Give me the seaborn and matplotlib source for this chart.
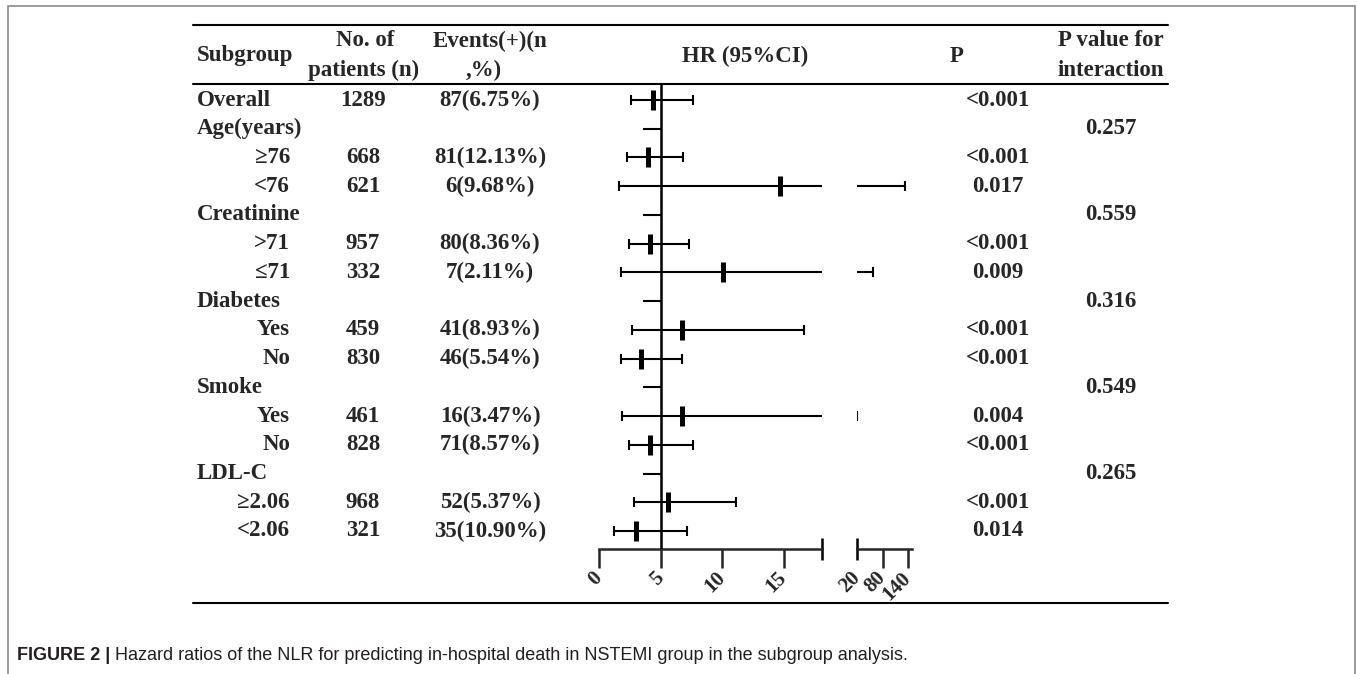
"""
Forest plot of NLR hazard ratios by subgroup (NSTEMI, in-hospital death)
"""

import numpy as np
import pandas as pd
import matplotlib
matplotlib.use("Agg")
import matplotlib.pyplot as plt
import matplotlib.transforms as mtransforms
from matplotlib.lines import Line2D
from matplotlib.patches import Rectangle
import seaborn as sns

# table rows
subgroups = ["Overall", "Age(years)", "≥76", "<76", "Creatinine", ">71", "≤71",
             "Diabetes", "Yes", "No", "Smoke", "Yes", "No", "LDL-C", "≥2.06", "<2.06"]
is_group = [True, True, False, False, True, False, False,
            True, False, False, True, False, False, True, False, False]
n_patients = ["1289", "", "668", "621", "", "957", "332",
              "", "459", "830", "", "461", "828", "", "968", "321"]
events = ["87(6.75%)", "", "81(12.13%)", "6(9.68%)", "", "80(8.36%)", "7(2.11%)",
          "", "41(8.93%)", "46(5.54%)", "", "16(3.47%)", "71(8.57%)", "", "52(5.37%)", "35(10.90%)"]
p_values = ["<0.001", "", "<0.001", "0.017", "", "<0.001", "0.009",
            "", "<0.001", "<0.001", "", "0.004", "<0.001", "", "<0.001", "0.014"]
p_interaction = ["", "0.257", "", "", "0.559", "", "",
                 "0.316", "", "", "0.549", "", "", "0.265", "", ""]

# hazard ratios and 95% CI
hr = [4.4, np.nan, 4.0, 14.7, np.nan, 4.15, 10.1,
      np.nan, 6.7, 3.4, np.nan, 6.7, 4.15, np.nan, 5.6, 3.0]
ci_low = [2.6, np.nan, 2.3, 1.6, np.nan, 2.4, 1.8,
          np.nan, 2.7, 1.8, np.nan, 1.9, 2.4, np.nan, 2.85, 1.2]
ci_high = [7.6, np.nan, 6.8, 133, np.nan, 7.3, 58,
           np.nan, 16.6, 6.7, np.nan, 21, 7.6, np.nan, 11.1, 7.15]

ticks_low = [0, 5, 10, 15]
ticks_high = [20, 80, 140]
break_low = 18.1
high_range = (20, 149.4)

W, H = 1357, 674


def fx(px):
    return px / W


def fy(py):
    return 1 - py / H


sns.set_style("white")
plt.rcParams['font.family'] = ['Liberation Serif', 'DejaVu Serif']
plt.rcParams['font.weight'] = 'bold'

fig = plt.figure(figsize=(W / 100, H / 100), dpi=100)

axis_y, top_y, row0_y = 549, 84, 100
row_step = (531 - 100) / 15
y_bottom = (axis_y - row0_y) / row_step
y_top = (top_y - row0_y) / row_step

ax1 = fig.add_axes([fx(599), fy(axis_y), fx(822) - fx(599), fy(top_y) - fy(axis_y)])
ax2 = fig.add_axes([fx(857), fy(axis_y), fx(912) - fx(857), fy(top_y) - fy(axis_y)])

df = pd.DataFrame({"row": np.arange(len(subgroups)), "hr": hr, "lo": ci_low, "hi": ci_high})
est = df.dropna()

lw = 1.5
sns.scatterplot(data=est, x="hr", y="row", marker="|", s=13.7 ** 2, linewidth=3.6,
                color="black", ax=ax1, legend=False, zorder=5)

for _, r in est.iterrows():
    hi1 = min(r.hi, break_low)
    ax1.hlines(r.row, r.lo, hi1, color="black", lw=lw)
    ax1.plot([r.lo], [r.row], marker="|", ms=6.5, mew=lw, color="black")
    if r.hi <= break_low:
        ax1.plot([r.hi], [r.row], marker="|", ms=6.5, mew=lw, color="black")
    else:
        ax2.hlines(r.row, high_range[0], r.hi, color="black", lw=lw)
        ax2.plot([r.hi], [r.row], marker="|", ms=6.5, mew=lw, color="black")

# short dash on group rows
grp_rows = df.row[df.hr.isna()]
ax1.hlines(grp_rows, 3.6, 5, color="black", lw=lw)
ax1.axvline(5, color="black", lw=1.8, zorder=3)

cap = 0.383
for ax, lims, ticks in [(ax1, (0, break_low), ticks_low), (ax2, high_range, ticks_high)]:
    ax.set_xlim(*lims)
    ax.set_ylim(y_bottom, y_top)
    for s in ["top", "right", "left"]:
        ax.spines[s].set_visible(False)
    ax.spines["bottom"].set_linewidth(1.8)
    ax.set_yticks([])
    ax.set_xlabel("")
    ax.set_ylabel("")
    ax.set_xticks(ticks)
    ax.set_xticklabels([str(t) for t in ticks], rotation=45, ha="right", va="center",
                       rotation_mode="anchor")
    ax.tick_params(axis="x", direction="out", length=13.7, width=1.8, labelsize=15, pad=5,
                   bottom=True)
    ax.patch.set_alpha(0)

ax1.plot([break_low, break_low], [y_bottom - cap, y_bottom + cap], color="black", lw=1.8,
         clip_on=False, solid_capstyle="butt")
ax2.plot([high_range[0], high_range[0]], [y_bottom - cap, y_bottom + cap], color="black",
         lw=1.8, clip_on=False, solid_capstyle="butt")
ax2.xaxis.get_major_ticks()[0].tick1line.set_markersize(0)

# table text
trans = mtransforms.blended_transform_factory(fig.transFigure, ax1.transData)
fs = 16.5
for i in range(len(subgroups)):
    if is_group[i]:
        ax1.text(fx(197), i, subgroups[i], ha="left", va="center", fontsize=fs,
                 transform=trans, clip_on=False)
    else:
        ax1.text(fx(290), i, subgroups[i], ha="right", va="center", fontsize=fs,
                 transform=trans, clip_on=False)
    ax1.text(fx(363), i, n_patients[i], ha="center", va="center", fontsize=fs,
             transform=trans, clip_on=False)
    ax1.text(fx(490), i, events[i], ha="center", va="center", fontsize=fs,
             transform=trans, clip_on=False)
    ax1.text(fx(998), i, p_values[i], ha="center", va="center", fontsize=fs,
             transform=trans, clip_on=False)
    ax1.text(fx(1111), i, p_interaction[i], ha="center", va="center", fontsize=fs,
             transform=trans, clip_on=False)

# header
fig.text(fx(197), fy(56), "Subgroup", ha="left", va="center", fontsize=fs)
fig.text(fx(365), fy(41), "No. of", ha="center", va="center", fontsize=fs)
fig.text(fx(364), fy(70), "patients (n)", ha="center", va="center", fontsize=fs)
fig.text(fx(490), fy(41), "Events(+)(n", ha="center", va="center", fontsize=fs)
fig.text(fx(484), fy(70), ",%)", ha="center", va="center", fontsize=fs)
fig.text(fx(745), fy(56), "HR (95%CI)", ha="center", va="center", fontsize=fs)
fig.text(fx(957), fy(56), "P", ha="center", va="center", fontsize=fs)
fig.text(fx(1111), fy(41), "P value for", ha="center", va="center", fontsize=fs)
fig.text(fx(1111), fy(70), "interaction", ha="center", va="center", fontsize=fs)

for yy in [25, 84, 603]:
    fig.add_artist(Line2D([fx(193), fx(1168)], [fy(yy), fy(yy)], lw=1.5, color="black"))

# outer frame
fig.add_artist(Rectangle((fx(8), fy(700)), fx(1355) - fx(8), fy(6) - fy(700),
                         transform=fig.transFigure, fill=False, ec="#8a8a8a", lw=1.2))

# caption
cap_font = ['Liberation Sans', 'DejaVu Sans']
t1 = fig.text(fx(17), fy(655), "FIGURE 2 |", ha="left", va="center", fontsize=13,
              fontweight="bold", family=cap_font, color="#231f20")
fig.canvas.draw()
bb = t1.get_window_extent()
fig.text(bb.x1 / W + fx(5), fy(655),
         "Hazard ratios of the NLR for predicting in-hospital death in NSTEMI group in the subgroup analysis.",
         ha="left", va="center", fontsize=13, fontweight="normal", family=cap_font,
         color="#231f20")

fig.savefig("out.png", dpi=100)
